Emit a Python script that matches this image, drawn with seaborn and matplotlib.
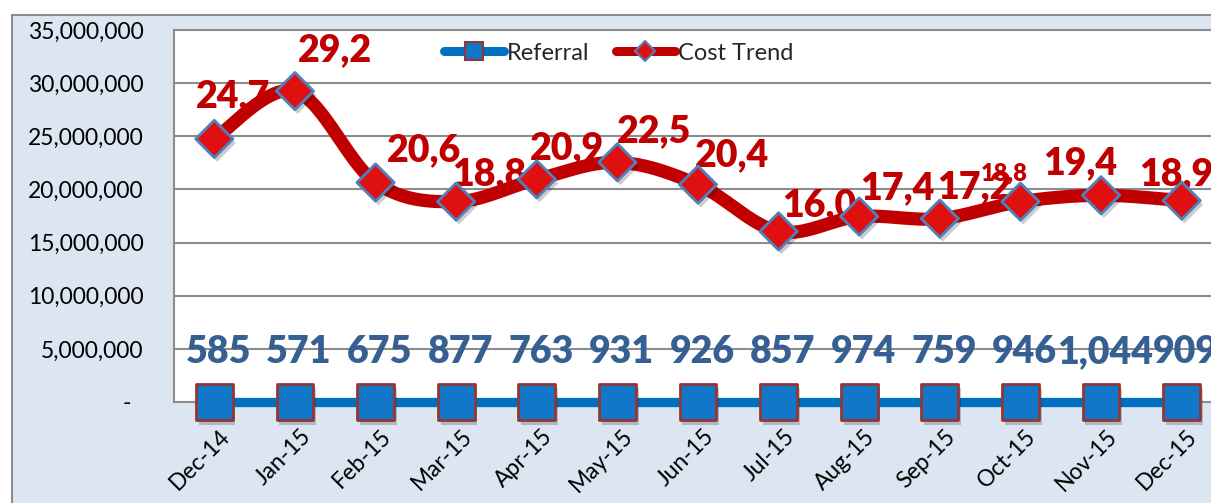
import numpy as np
import pandas as pd
import matplotlib
matplotlib.use("Agg")
import matplotlib.pyplot as plt
import seaborn as sns
from matplotlib.patches import Rectangle
from matplotlib.lines import Line2D
from matplotlib.transforms import ScaledTranslation
import matplotlib.patheffects as pe

# ---------------- data ----------------
months = ["Dec-14", "Jan-15", "Feb-15", "Mar-15", "Apr-15", "May-15", "Jun-15",
          "Jul-15", "Aug-15", "Sep-15", "Oct-15", "Nov-15", "Dec-15"]
referral = [585, 571, 675, 877, 763, 931, 926, 857, 974, 759, 946, 1044, 909]
cost_trend = [24_750_000, 29_250_000, 20_650_000, 18_850_000, 20_950_000,
              22_550_000, 20_450_000, 16_050_000, 17_450_000, 17_250_000,
              18_850_000, 19_450_000, 18_950_000]
y_ticks = [0, 5_000_000, 10_000_000, 15_000_000, 20_000_000,
           25_000_000, 30_000_000, 35_000_000]
series_names = ["Referral", "Cost Trend"]

# ---------------- style ----------------
sns.set_theme(style="white")
plt.rcParams["font.family"] = ["Lato", "DejaVu Sans"]

W, H, DPI = 1211, 503, 100
fig = plt.figure(figsize=(W / DPI, H / DPI), dpi=DPI, facecolor="white")

# chart area (light blue panel, extends beyond the cropped picture)
fig.add_artist(Rectangle((12 / W, -0.2), 1.3, (H - 15) / H + 0.2,
                         transform=fig.transFigure, facecolor="#DCE6F2",
                         edgecolor="#8C8C8C", lw=1.5, zorder=0))

left_px, right_px, top_px, bot_px = 174, 1222, 30, 402
ax = fig.add_axes([left_px / W, (H - bot_px) / H,
                   (right_px - left_px) / W, (bot_px - top_px) / H])
ax.set_facecolor("white")
ax.set_zorder(1)

x = np.arange(len(months))

# smoothed cost curve (Excel-like Bezier through the points)
P = np.column_stack([x, np.array(cost_trend, dtype=float)])
Pext = np.vstack([P[0], P, P[-1]])
xs, ys = [], []
t = np.linspace(0, 1, 40)
for i in range(len(P) - 1):
    p0, p3 = P[i], P[i + 1]
    p1 = p0 + (Pext[i + 2] - Pext[i]) / 6
    p2 = p3 - (Pext[i + 3] - Pext[i + 1]) / 6
    b = ((1 - t) ** 3)[:, None] * p0 + (3 * (1 - t) ** 2 * t)[:, None] * p1 \
        + (3 * (1 - t) * t ** 2)[:, None] * p2 + (t ** 3)[:, None] * p3
    xs.append(b[:, 0]); ys.append(b[:, 1])
smooth = pd.DataFrame({"x": np.concatenate(xs), "y": np.concatenate(ys)})

ref_df = pd.DataFrame({"x": x, "y": [0] * len(x), "v": referral})
cost_df = pd.DataFrame({"x": x, "y": cost_trend})

blue_line = "#0070C0"
red_line = "#C00000"
sq_face = "#1277C8"
sq_edge = "#943634"
dia_face = "#E01010"
dia_edge = "#4F81BD"

sns.lineplot(data=ref_df, x="x", y="y", ax=ax, color=blue_line, lw=6.7,
             zorder=3, legend=False, sort=False, clip_on=False)
sns.lineplot(data=smooth, x="x", y="y", ax=ax, color=red_line, lw=9.5,
             zorder=3, legend=False, sort=False, solid_capstyle="round")

shadow = [pe.SimplePatchShadow(offset=(2, -3), shadow_rgbFace="black", alpha=0.2),
          pe.Normal()]
sns.scatterplot(data=ref_df, x="x", y="y", ax=ax, marker="s", s=26.5 ** 2,
                color=sq_face, edgecolor=sq_edge, linewidth=2, zorder=5,
                legend=False, clip_on=False, path_effects=shadow)
sns.scatterplot(data=cost_df, x="x", y="y", ax=ax, marker="D", s=19 ** 2,
                color=dia_face, edgecolor=dia_edge, linewidth=2, zorder=5,
                legend=False, path_effects=shadow)

# data labels
big = 27
label_weight = "heavy"
cost_offsets = [(19, 32), (40, 30), (48, 21), (33, 16), (30, 20), (37, 20),
                (34, 18), (41, 15), (38, 17), (34, 21), (-16, 21), (-21, 21),
                (-6, 15)]
cost_sizes = [big] * len(months)
cost_sizes[10] = 17
cost_z = [4] * len(months)
cost_z[10] = 3.5
for i, v in enumerate(cost_trend):
    ax.annotate(f"{v:,}"[:4], (x[i], v), xytext=cost_offsets[i],
                textcoords="offset pixels", ha="center", va="baseline",
                fontsize=cost_sizes[i], fontweight=label_weight, color="#C00000",
                zorder=cost_z[i], annotation_clip=False)
for i, v in enumerate(referral):
    ax.annotate(f"{v:,}", (x[i], 0), xytext=(4, 39),
                textcoords="offset pixels", ha="center", va="baseline",
                fontsize=big, fontweight=label_weight, color="#376092", zorder=4,
                annotation_clip=False)

# axes
ax.set_xlim(-0.5, len(months) - 0.5)
ax.set_ylim(0, 35_000_000)
ax.set_yticks(y_ticks)
ax.set_yticklabels([f"{v:,}" if v else "-  " for v in y_ticks])
ax.set_xticks(x)
ax.set_xticklabels(months, rotation=45, ha="right", va="top",
                   rotation_mode="anchor")
ax.tick_params(axis="y", length=0, pad=22, labelsize=16.5, labelcolor="black")
ax.tick_params(axis="x", length=0, pad=17, labelsize=16.5, labelcolor="black")
for lab in ax.get_xticklabels():
    lab.set_transform(lab.get_transform() + ScaledTranslation(5 / DPI, 0, fig.dpi_scale_trans))
ax.set_xlabel("")
ax.set_ylabel("")
ax.set_axisbelow(True)
ax.grid(axis="y", color="#8C8C8C", lw=1.5)
ax.grid(axis="x", visible=False)
for s in ax.spines.values():
    s.set_color("#8C8C8C")
    s.set_linewidth(1.5)
    s.set_visible(True)
    s.set_zorder(1.5)

# legend
handles = [
    Line2D([], [], color=blue_line, lw=6.5, marker="s", ms=13,
           mfc=sq_face, mec=sq_edge, mew=1.5, solid_capstyle="round"),
    Line2D([], [], color=red_line, lw=6.5, marker="D", ms=10,
           mfc=dia_face, mec=dia_edge, mew=1.5, solid_capstyle="round"),
]
ax.legend(handles, series_names, loc="center", bbox_to_anchor=(0.4246, 0.938),
          ncol=2, frameon=False, fontsize=17, handlelength=2.5,
          handletextpad=0.15, columnspacing=1.1)

fig.savefig("out.png", dpi=DPI, facecolor="white")
